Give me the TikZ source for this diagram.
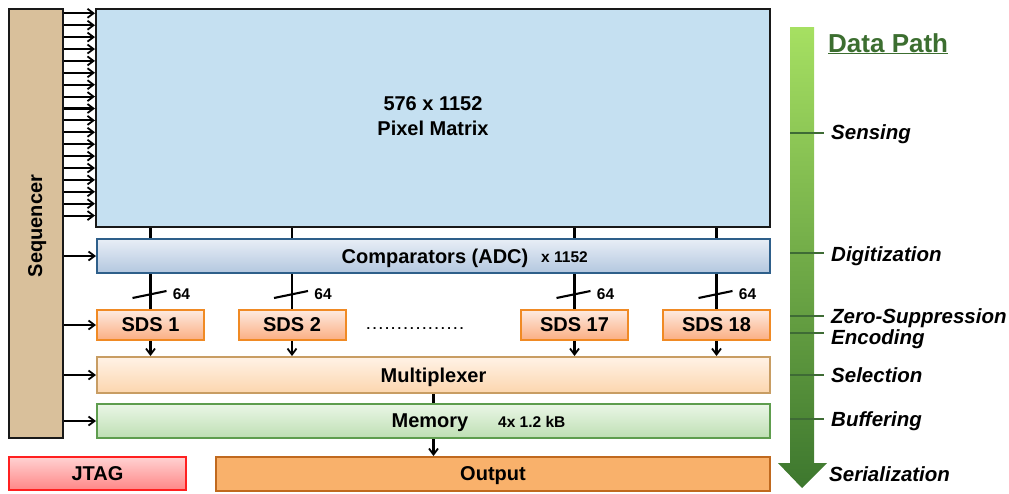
\documentclass[tikz,border=0pt]{standalone}
\usepackage{fontspec}
\setmainfont{Liberation Sans}
\usetikzlibrary{arrows.meta}
\definecolor{seqfill}{HTML}{D9C09B}
\definecolor{matfill}{HTML}{C5E0F1}
\definecolor{cmpdraw}{HTML}{2E5F8A}
\definecolor{cmptop}{HTML}{E8EEF6}
\definecolor{cmpbot}{HTML}{B3C7DF}
\definecolor{sdsdraw}{HTML}{F08A24}
\definecolor{sdstop}{HTML}{FDEAE0}
\definecolor{sdsbot}{HTML}{FBAE82}
\definecolor{muxdraw}{HTML}{C89D63}
\definecolor{muxtop}{HTML}{FFF2E6}
\definecolor{muxbot}{HTML}{FCD6AE}
\definecolor{memdraw}{HTML}{5E9D4E}
\definecolor{memtop}{HTML}{EAF6E6}
\definecolor{membot}{HTML}{BEDFB3}
\definecolor{jtagdraw}{HTML}{FF2020}
\definecolor{jtagtop}{HTML}{FFD2D2}
\definecolor{jtagbot}{HTML}{FF8686}
\definecolor{outfill}{HTML}{F9B16B}
\definecolor{outdraw}{HTML}{C0691E}
\definecolor{dpgreen}{HTML}{3C6E30}
\definecolor{tickgreen}{HTML}{3E6B35}
\definecolor{arrtop}{HTML}{A6E062}
\definecolor{arrbot}{HTML}{3D772E}
\newcommand\dd{.\kern2.6pt}
\tikzset{
  bigfont/.style={font=\bfseries\fontsize{20}{24}\selectfont, text depth=0pt},
  blk/.style={draw, line width=2pt, inner sep=0pt, bigfont},
  arr/.style={line width=2.1pt, -{Straight Barb[length=6pt,width=9pt,line width=1.8pt]}},
  ln/.style={line width=2.1pt},
  small/.style={font=\bfseries\fontsize{15.5}{18}\selectfont, inner sep=0pt},
  stage/.style={font=\bfseries\itshape\fontsize{20.5}{24}\selectfont, anchor=base west, inner sep=0pt},
  tick/.style={draw=tickgreen, line width=2pt},
}
\begin{document}
\begin{tikzpicture}[x=1pt,y=-1pt]
\useasboundingbox (0,0) rectangle (1009,493);
% blocks
\node[blk, fill=seqfill, draw=black!90, minimum width=54, minimum height=429] (seq) at (36,223.5) {};
\node[bigfont, rotate=90, inner sep=0pt, anchor=base] (seqtxt) at (42,226) {Sequencer};
\node[blk, fill=matfill, draw=black!90, minimum width=674, minimum height=218] (mat) at (433,118) {};
\node[font=\bfseries\fontsize{20}{24}\selectfont, align=center, inner sep=0pt, anchor=north] (mattxt) at (433,96) {576 x 1152\\[1pt]Pixel Matrix};
\node[blk, draw=cmpdraw, top color=cmptop, bottom color=cmpbot, minimum width=673, minimum height=34] (cmp) at (433.5,256) {};
\node[bigfont, inner sep=0pt] (cmptxt) at (435,256) {Comparators (ADC)};
\node[small, anchor=west] (cmpx) at (541,257) {x 1152};
\tikzset{sds/.style={blk, draw=sdsdraw, top color=sdstop, bottom color=sdsbot, minimum width=107, minimum height=30}}
\node[sds] (sds1) at (150.5,325) {SDS 1};
\node[sds] (sds2) at (292,325) {SDS 2};
\node[sds] (sds17) at (574.5,325) {SDS 17};
\node[sds] (sds18) at (716.5,325) {SDS 18};
\node[font=\bfseries\fontsize{13}{16}\selectfont, inner sep=0pt, anchor=base] (dots) at (415,329.5) {\dd\dd\dd\dd\dd\dd\dd\dd\dd\dd\dd\dd\dd\dd\dd.};
\node[blk, draw=muxdraw, top color=muxtop, bottom color=muxbot, minimum width=673, minimum height=36] (mux) at (433.5,375) {Multiplexer};
\node[blk, draw=memdraw, top color=memtop, bottom color=membot, minimum width=673, minimum height=34] (mem) at (433.5,421) {};
\node[bigfont, inner sep=0pt] (memtxt) at (430,421) {Memory};
\node[small, anchor=west] (memx) at (498,422) {4x 1.2 kB};
\node[blk, draw=jtagdraw, top color=jtagtop, bottom color=jtagbot, minimum width=177, minimum height=33] (jtag) at (97.5,473.5) {JTAG};
\node[blk, draw=outdraw, fill=outfill, minimum width=554, minimum height=34] (out) at (493,474) {Output};
% sequencer to matrix arrows
\foreach \i in {0,...,17}{
  \pgfmathsetmacro{\yy}{13.3+11.9*\i}
  \draw[arr] (seq.east |- 0,\yy) -- (mat.west |- 0,\yy);
}
% sequencer to other blocks
\draw[arr] (seq.east |- cmp.west) -- (cmp.west);
\draw[arr] (seq.east |- sds1.west) -- (sds1.west);
\draw[arr] (seq.east |- mux.west) -- (mux.west);
\draw[arr] (seq.east |- mem.west) -- (mem.west);
% matrix to comparators, comparators to sds, sds to mux
\foreach \s in {sds1,sds2,sds17,sds18}{
  \draw[ln] (mat.south -| \s.north) -- (cmp.north -| \s.north);
  \draw[ln] (cmp.south -| \s.north) -- (\s.north);
  \draw[ln] ([xshift=-18pt,yshift=-298pt]\s.north |- 0,0) -- ([xshift=16pt,yshift=-291pt]\s.north |- 0,0);
  \node[small] at ([xshift=31pt,yshift=-294pt]\s.north |- 0,0) {64};
  \draw[arr] (\s.south) -- (mux.north -| \s.south);
}
\draw[ln] (mux.south -| mem.north) -- (mem.north);
\draw[arr] (mem.south) -- (out.north -| mem.south);
% data path arrow
\path[top color=arrtop, bottom color=arrbot] (790,27) -- (814,27) -- (814,463) -- (827,463) -- (802,488) -- (778,463) -- (790,463) -- cycle;
\node[font=\bfseries\fontsize{26}{30}\selectfont, text=dpgreen, anchor=base west, inner sep=0pt] (dp) at (828,52) {\underline{Data Path}};
\foreach \yy/\lab/\ly in {133/Sensing/139, 253/Digitization/261, 316/Zero-Suppression/323, 333/Encoding/344, 375/Selection/382, 419/Buffering/426}{
  \draw[tick] (790,\yy) -- (824,\yy);
  \node[stage] at (831,\ly) {\lab};
}
\node[stage] (ser) at (829,481) {Serialization};
\end{tikzpicture}
\end{document}
